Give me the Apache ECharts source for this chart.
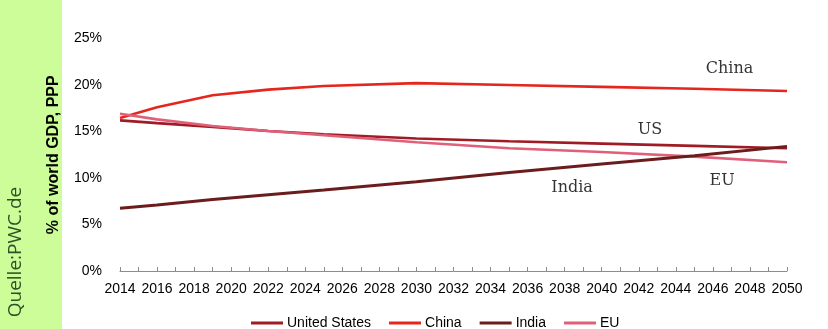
<!DOCTYPE html>
<html>
<head>
<meta charset="utf-8">
<script src="https://cdn.jsdelivr.net/npm/echarts@6/dist/echarts.min.js"></script>
<style>html,body{margin:0;padding:0;background:#fff}#c{width:828px;height:329px}</style>
</head>
<body>
<div id="c"></div>
<script>
// Data (% of world GDP, PPP)
const years = [2014, 2016, 2019, 2022, 2025, 2030, 2035, 2040, 2045, 2050];
const usValues    = [16.2, 15.9, 15.5, 15.05, 14.7, 14.25, 13.95, 13.7, 13.45, 13.2];
const chinaValues = [16.45, 17.6, 18.9, 19.5, 19.9, 20.2, 20.0, 19.8, 19.6, 19.35];
const indiaValues = [6.75, 7.1, 7.7, 8.2, 8.7, 9.6, 10.6, 11.5, 12.4, 13.4];
const euValues    = [16.9, 16.3, 15.6, 15.05, 14.6, 13.85, 13.2, 12.8, 12.3, 11.7];
const seriesNames = ['United States', 'China', 'India', 'EU'];
const annotations = [
  {text: 'China', year: 2046.9, value: 21.7},
  {text: 'US', year: 2042.6, value: 15.2},
  {text: 'India', year: 2038.4, value: 8.9},
  {text: 'EU', year: 2046.5, value: 9.7}
];
const yTicks = [0, 5, 10, 15, 20, 25];

const colors = ['#a01c24', '#e5261d', '#6b1d1d', '#e0607a'];
const allValues = [usValues, chinaValues, indiaValues, euValues];

const chart = echarts.init(document.getElementById('c'));
const series = seriesNames.map((n, i) => ({
  name: n,
  type: 'line',
  data: years.map((y, k) => [y, allValues[i][k]]),
  showSymbol: false,
  symbol: 'none',
  lineStyle: {color: colors[i], width: i === 2 ? 3 : 2.6},
  itemStyle: {color: colors[i]},
  z: i === 2 ? 5 : 3
}));
series.push({
  type: 'scatter',
  data: annotations.map(a => ({value: [a.year, a.value], name: a.text})),
  symbolSize: 0,
  silent: true,
  label: {
    show: true, position: 'inside', formatter: p => p.name,
    fontFamily: 'DejaVu Serif', fontSize: 16, color: '#000'
  }
});

chart.setOption({
  animation: false,
  graphic: [
    {type: 'rect', shape: {x: 0, y: 0, width: 62, height: 329}, style: {fill: '#cdfd99'}, z: -1},
    {type: 'text', x: 16, y: 252, rotation: Math.PI / 2,
     style: {text: 'Quelle:PWC.de', fontFamily: 'Open Sans', fontSize: 19, fill: '#2a5226',
             textAlign: 'center', textVerticalAlign: 'middle'}}
  ],
  grid: {left: 120, right: 41, top: 38.5, bottom: 58},
  legend: {
    data: seriesNames, left: 246, top: 311,
    icon: 'rect', itemWidth: 32, itemHeight: 3, itemGap: 18,
    textStyle: {fontFamily: 'Liberation Sans', fontSize: 14, color: '#000', padding: [0, 0, 0, -1]}
  },
  xAxis: {
    type: 'value', min: 2014, max: 2050, interval: 2,
    axisLine: {show: true, lineStyle: {color: '#8c8c8c', width: 1}},
    axisTick: {show: true, inside: true, length: 4, lineStyle: {color: '#8c8c8c'}},
    minorTick: {show: true, splitNumber: 2, length: 4, lineStyle: {color: '#8c8c8c'}},
    splitLine: {show: false},
    axisLabel: {formatter: v => String(v), fontFamily: 'Liberation Sans', fontSize: 14, color: '#000', margin: 11}
  },
  yAxis: {
    type: 'value', min: yTicks[0], max: yTicks[yTicks.length - 1], interval: 5,
    name: '% of world GDP, PPP', nameLocation: 'middle', nameRotate: 90, nameGap: 58,
    nameTextStyle: {fontFamily: 'Liberation Sans', fontWeight: 'bold', fontSize: 16, color: '#000'},
    axisLine: {show: false}, axisTick: {show: false}, splitLine: {show: false},
    axisLabel: {formatter: '{value}%', fontFamily: 'Liberation Sans', fontSize: 14, color: '#000', margin: 18}
  },
  series: series
});
</script>
</body>
</html>
